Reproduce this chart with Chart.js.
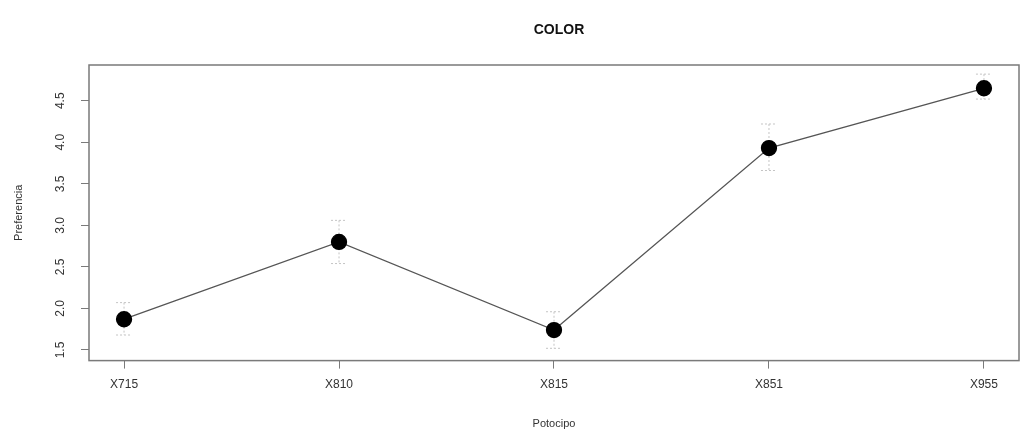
<!DOCTYPE html>
<html>
<head>
<meta charset="utf-8">
<script src="https://cdn.jsdelivr.net/npm/chart.js@4.4.1/dist/chart.umd.min.js"></script>
<style>
  html, body { margin: 0; padding: 0; background: #fff; }
  #wrap { width: 1028px; height: 434px; }
</style>
</head>
<body>
<div id="wrap"><canvas id="chart"></canvas></div>
<script>
// data
const categories = ['X715', 'X810', 'X815', 'X851', 'X955'];
const means = [1.87, 2.80, 1.74, 3.93, 4.65];
const upper = [2.07, 3.06, 1.96, 4.22, 4.82];
const lower = [1.68, 2.54, 1.52, 3.66, 4.52];
const yTicks = [1.5, 2.0, 2.5, 3.0, 3.5, 4.0, 4.5];

const FONT = '"Liberation Sans", Arial, sans-serif';
const AXIS_GREY = '#7a7a7a';

// box, error bars, rotated y labels and titles (R style)
const rPlot = {
    id: 'rPlot',
    beforeDatasetsDraw(chart) {
        const ctx = chart.ctx, x = chart.scales.x, y = chart.scales.y;
        ctx.save();
        ctx.strokeStyle = '#c4c4c4';
        ctx.lineWidth = 1;
        ctx.setLineDash([2, 2]);
        categories.forEach((c, i) => {
            const px = x.getPixelForValue(i);
            const top = y.getPixelForValue(upper[i]);
            const bot = y.getPixelForValue(lower[i]);
            ctx.beginPath();
            ctx.moveTo(px, top); ctx.lineTo(px, bot);
            ctx.moveTo(px - 8, top); ctx.lineTo(px + 8, top);
            ctx.moveTo(px - 8, bot); ctx.lineTo(px + 8, bot);
            ctx.stroke();
        });
        ctx.restore();
    },
    afterDraw(chart) {
        const ctx = chart.ctx, a = chart.chartArea, y = chart.scales.y;
        ctx.save();
        ctx.strokeStyle = AXIS_GREY;
        ctx.lineWidth = 1.5;
        ctx.strokeRect(a.left, a.top, a.right - a.left, a.bottom - a.top);

        ctx.fillStyle = '#333';
        ctx.font = '12px ' + FONT;
        ctx.textAlign = 'center';
        ctx.textBaseline = 'middle';
        yTicks.forEach(v => {
            ctx.save();
            ctx.translate(a.left - 28, y.getPixelForValue(v));
            ctx.rotate(-Math.PI / 2);
            ctx.fillText(v.toFixed(1), 0, 0);
            ctx.restore();
        });

        ctx.save();
        ctx.translate(19, (a.top + a.bottom) / 2);
        ctx.rotate(-Math.PI / 2);
        ctx.font = '11px ' + FONT;
        ctx.fillText('Preferencia', 0, 0);
        ctx.restore();

        ctx.font = '11px ' + FONT;
        ctx.fillText('Potocipo', (a.left + a.right) / 2, 424);

        ctx.font = 'bold 14px ' + FONT;
        ctx.fillStyle = '#111';
        ctx.fillText('COLOR', (a.left + a.right) / 2 + 5, 30);
        ctx.restore();
    }
};

new Chart(document.getElementById('chart'), {
    type: 'line',
    data: {
        datasets: [{
            data: means.map((v, i) => ({ x: i, y: v })),
            borderColor: '#555',
            borderWidth: 1.3,
            pointBackgroundColor: '#000',
            pointBorderColor: '#000',
            pointRadius: 7.5,
            tension: 0
        }]
    },
    options: {
        responsive: true,
        maintainAspectRatio: false,
        animation: false,
        events: [],
        layout: { padding: { left: 81, right: 9, top: 65, bottom: 33 } },
        plugins: { legend: { display: false }, tooltip: { enabled: false }, title: { display: false } },
        scales: {
            x: {
                type: 'linear',
                min: -0.163,
                max: 4.163,
                afterBuildTicks: s => { s.ticks = categories.map((c, i) => ({ value: i })); },
                ticks: {
                    callback: v => categories[v],
                    color: '#333',
                    font: { family: FONT, size: 12 },
                    padding: 9,
                    maxRotation: 0,
                    autoSkip: false
                },
                grid: { drawOnChartArea: false, tickLength: 8, color: AXIS_GREY },
                border: { display: false }
            },
            y: {
                min: 1.372,
                max: 4.93,
                afterBuildTicks: s => { s.ticks = yTicks.map(v => ({ value: v })); },
                ticks: { display: false },
                grid: { drawOnChartArea: false, tickLength: 8, color: AXIS_GREY },
                border: { display: false }
            }
        }
    },
    plugins: [rPlot]
});
</script>
</body>
</html>
